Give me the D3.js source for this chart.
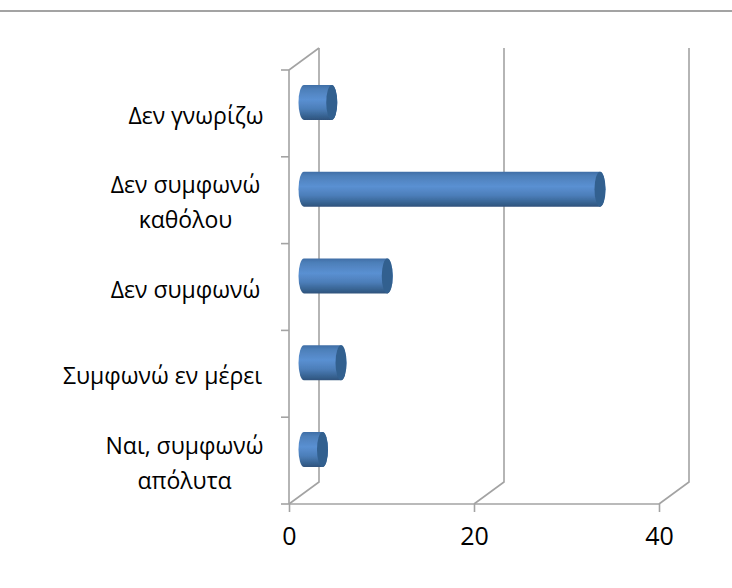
<!DOCTYPE html>
<html><head><meta charset="utf-8">
<script src="https://cdn.jsdelivr.net/npm/d3@7/dist/d3.min.js"></script>
<style>html,body{margin:0;background:#fff}svg{display:block}</style></head>
<body><svg id="c" width="732" height="588"></svg>
<script>
const categories=["Δεν γνωρίζω","Δεν συμφωνώ καθόλου","Δεν συμφωνώ","Συμφωνώ εν μέρει","Ναι, συμφωνώ απόλυτα"];
const labelLines=[["Δεν γνωρίζω"],["Δεν συμφωνώ","καθόλου"],["Δεν συμφωνώ"],["Συμφωνώ εν μέρει"],["Ναι, συμφωνώ","απόλυτα"]];
const labelCenters=[196,185.5,185.5,162.5,184.5];
const values=[3,32,9,4,2];
const xTicks=[0,20,40];
const FONT='"Open Sans","Noto Sans",sans-serif';
const GRAY="#a3a3a3";
const svg=d3.select("#c");
const x=d3.scaleLinear().domain([0,40]).range([289,659]);
const y=d3.scaleBand().domain(categories).range([70,504]);
const dx=30,dy=-22;
const defs=svg.append("defs");
const g1=defs.append("linearGradient").attr("id","body").attr("x1",0).attr("y1",0).attr("x2",0).attr("y2",1);
[[0,"#3f6ea6"],[.12,"#4d7fb9"],[.42,"#5a90d2"],[.68,"#4c7eb9"],[.9,"#36618f"],[1,"#2f527c"]].forEach(s=>g1.append("stop").attr("offset",s[0]).attr("stop-color",s[1]));
defs.append("filter").attr("id","soft").attr("x","-5%").attr("y","-10%").attr("width","110%").attr("height","120%")
  .append("feGaussianBlur").attr("stdDeviation",.6);

svg.append("line").attr("x1",0).attr("x2",732).attr("y1",11).attr("y2",11).attr("stroke",GRAY).attr("stroke-width",2);

const walls=svg.append("g").attr("fill","none").attr("stroke",GRAY).attr("stroke-width",1.6);
xTicks.forEach(t=>{
  walls.append("path").attr("d",d3.line()([[x(t),504],[x(t)+dx,504+dy],[x(t)+dx,70+dy]]));
});
walls.append("path").attr("d",d3.line()([[x(0),70],[x(0)+dx,70+dy]]));
walls.append("line").attr("x1",x(0)).attr("x2",x(0)).attr("y1",70).attr("y2",504);
walls.append("line").attr("x1",x(0)).attr("x2",x(40)).attr("y1",504).attr("y2",504);

const yTickVals=d3.range(6).map(i=>70+i*y.step());
walls.selectAll("line.t").data(yTickVals).enter().append("line").attr("class","t")
  .attr("x1",281).attr("x2",289).attr("y1",d=>d).attr("y2",d=>d);

const axis=svg.append("g").attr("transform","translate(0,504)").call(d3.axisBottom(x).tickValues(xTicks).tickSize(8).tickPadding(15).tickFormat(d3.format("d")));
axis.select(".domain").remove();
axis.selectAll("line").attr("stroke",GRAY).attr("stroke-width",1.6);
axis.selectAll("text").attr("font-family",FONT).attr("font-size",25).attr("fill","#000");

const rx=5.5,h=35;
const bars=svg.append("g").attr("filter","url(#soft)");
categories.forEach((c,i)=>{
  const cy=y(c)+y.bandwidth()/2-11;
  const x0=x(0)+15, x1=x(values[i])+15;
  const t=cy-h/2,b=cy+h/2;
  bars.append("path").attr("fill","url(#body)")
    .attr("d",`M${x0},${t}H${x1}A${rx},${h/2} 0 0 1 ${x1},${b}H${x0}A${rx},${h/2} 0 0 1 ${x0},${t}Z`);
  bars.append("ellipse").attr("cx",x1).attr("cy",cy).attr("rx",rx).attr("ry",h/2).attr("fill","#33608f");
});

const labels=svg.append("g").attr("font-family",FONT).attr("font-size",23).attr("fill","#000").attr("text-anchor","middle");
categories.forEach((c,i)=>{
  const L=labelLines[i];
  const cy=y(c)+y.bandwidth()/2+3;
  L.forEach((s,j)=>{
    labels.append("text").attr("x",labelCenters[i]).attr("y",cy+(j-(L.length-1)/2)*35+7.5).text(s);
  });
});
</script></body></html>
